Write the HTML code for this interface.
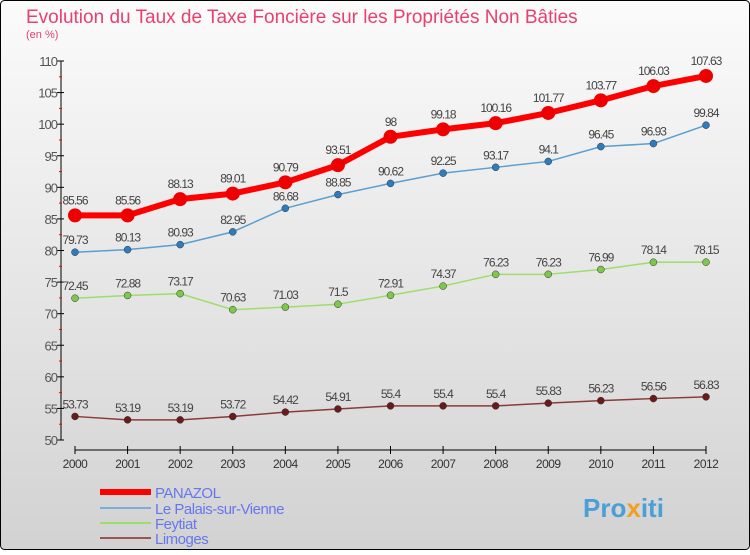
<!DOCTYPE html>
<html><head><meta charset="utf-8"><style>
body{margin:0;width:750px;height:550px;overflow:hidden;font-family:"Liberation Sans",sans-serif}
</style></head><body>
<svg width="750" height="550" xmlns="http://www.w3.org/2000/svg">
<defs><linearGradient id="bg" x1="0" y1="0" x2="0" y2="1"><stop offset="0" stop-color="#fbfbfb"/><stop offset="1" stop-color="#d2d2d2"/></linearGradient></defs>
<rect x="0.5" y="0.5" width="749" height="549" rx="4" fill="url(#bg)" stroke="#000"/>
<text x="26" y="23" font-size="19" fill="#e8416e">Evolution du Taux de Taxe Foncière sur les Propriétés Non Bâties</text>
<text x="26" y="38" font-size="11" fill="#e8416e">(en %)</text>
<g id="axes"></g><g id="series"></g><g id="legend"></g>
<text x="583" y="517" font-size="26" font-weight="bold" fill="#4a9fd8">Pro<tspan fill="#f0a020">x</tspan>iti</text>
</svg>
<script>
const years=["2000","2001","2002","2003","2004","2005","2006","2007","2008","2009","2010","2011","2012"];
const yTicks=[50,55,60,65,70,75,80,85,90,95,100,105,110];
const panazol=[85.56,85.56,88.13,89.01,90.79,93.51,98,99.18,100.16,101.77,103.77,106.03,107.63];
const palais=[79.73,80.13,80.93,82.95,86.68,88.85,90.62,92.25,93.17,94.1,96.45,96.93,99.84];
const feytiat=[72.45,72.88,73.17,70.63,71.03,71.5,72.91,74.37,76.23,76.23,76.99,78.14,78.15];
const limoges=[53.73,53.19,53.19,53.72,54.42,54.91,55.4,55.4,55.4,55.83,56.23,56.56,56.83];
const names=["PANAZOL","Le Palais-sur-Vienne","Feytiat","Limoges"];
const NS="http://www.w3.org/2000/svg";
const X=i=>75+i*(706-75)/(years.length-1);
const Y=v=>440-(v-50)*(440-61)/60;
function mk(t,a,p){const e=document.createElementNS(NS,t);for(const k in a)e.setAttribute(k,a[k]);p.appendChild(e);return e;}
const ax=document.getElementById('axes');
const yl=mk('line',{x1:61,y1:61,x2:61,y2:440,stroke:'#000'},ax);


yTicks.forEach(v=>{
  mk('line',{x1:57,x2:64,y1:Y(v),y2:Y(v),stroke:'#000'},ax);
  if(v<110)mk('line',{x1:59,x2:62,y1:Y(v+2.5),y2:Y(v+2.5),stroke:'#f00'},ax);
  const t=mk('text',{x:57,y:Y(v)+5,'font-size':13,fill:'#555','text-anchor':'end','letter-spacing':'-1'},ax);
  t.textContent=v;
  
  
});
const xl=mk('line',{x1:75,y1:450,x2:706,y2:450,stroke:'#000'},ax);


years.forEach((y,i)=>{
  mk('line',{x1:X(i),x2:X(i),y1:446,y2:454,stroke:'#000'},ax);
  const t=mk('text',{x:X(i),y:468,'font-size':12,fill:'#333','text-anchor':'middle','letter-spacing':'-0.5'},ax);
  t.textContent=y;
  
  
});
const sg=document.getElementById('series');
const cfg=[[panazol,'#f00','#e00',6,7],[palais,'#5b9fd0','#2e7cc0',1.5,3.5],[feytiat,'#9dde6a','#7cc84a',1.5,3.5],[limoges,'#8a3a3a','#6a1a1a',1.5,3.5]];
[3,2,1,0].forEach(si=>{
  const [d,lc,pc,w,r]=cfg[si];
  const g=mk('g',{},sg);
  
  
  mk('polyline',{points:d.map((v,i)=>X(i)+','+Y(v)).join(' '),fill:'none',stroke:lc,'stroke-width':w,'stroke-linejoin':'round'},g);
  d.forEach((v,i)=>{
    const c=mk('circle',{cx:X(i),cy:Y(v),r:r,fill:pc,stroke:si?'#333':'none','stroke-width':0.5},g);
    
    
    const t=mk('text',{x:X(i),y:Y(v)-(si?8:11),'font-size':12,fill:'#444','text-anchor':'middle','letter-spacing':'-1'},g);
    t.textContent=String(v);
    
    
  });
});
const lg=document.getElementById('legend');
[[492,'#f00',6],[508,'#7aaed8',2],[523,'#9dde6a',2],[538,'#955',2]].forEach((r,i)=>{
  const g=mk('g',{},lg);
  
  
  mk('line',{x1:100,x2:151,y1:r[0],y2:r[0],stroke:r[1],'stroke-width':r[2]},g);
  const t=mk('text',{x:155,y:r[0]+6,'font-size':15,fill:'#6677ee','letter-spacing':'-0.5'},g);
  t.textContent=names[i];
});
</script>
</body></html>
